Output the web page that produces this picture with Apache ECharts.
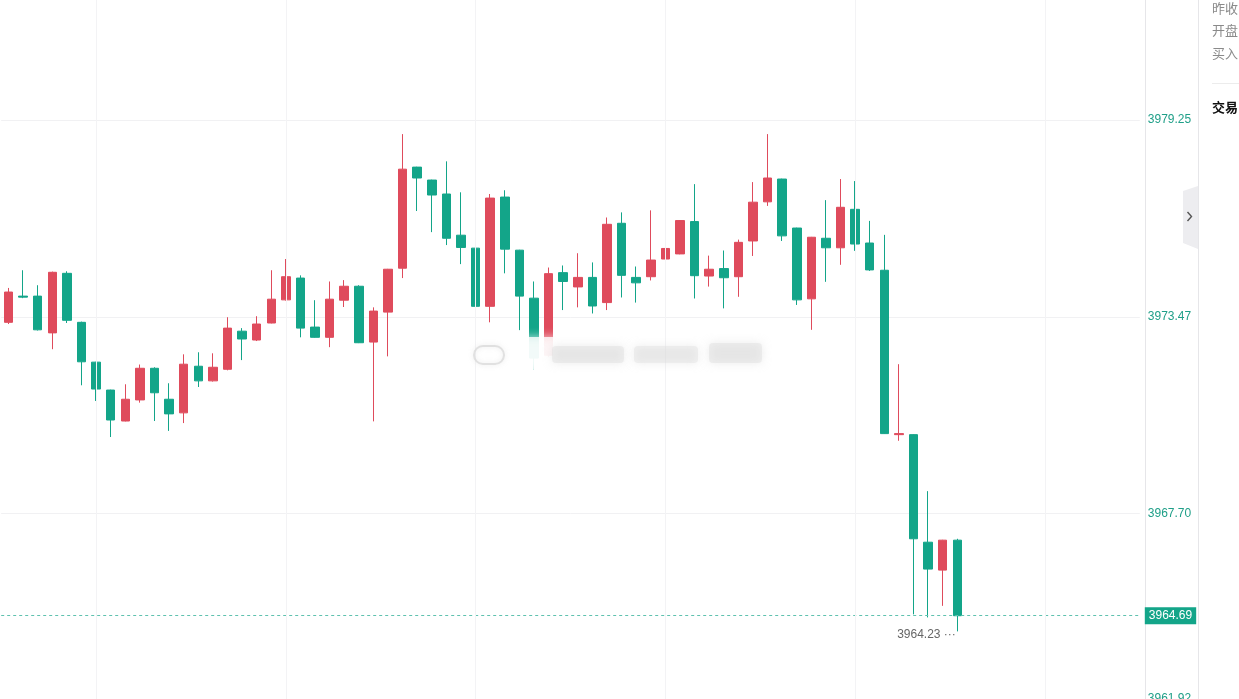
<!DOCTYPE html>
<html>
<head>
<meta charset="utf-8">
<title>K线图</title>
<script src="https://cdn.jsdelivr.net/npm/echarts@6/dist/echarts.min.js"></script>
<style>
  html, body { margin: 0; padding: 0; background: #fff; overflow: hidden; }
  #main { width: 1239px; height: 710px; }
</style>
</head>
<body>
<div id="main"></div>
<script>
// 价格数据（开、收、低、高）
var openData = [
  3973.31, 3974.08, 3974.08, 3973.00, 3974.75, 3973.31, 3972.14, 3971.32, 3970.41, 3971.03,
  3971.96, 3971.05, 3970.65, 3972.02, 3971.59, 3971.93, 3973.05, 3972.79, 3973.29, 3973.97,
  3974.61, 3973.17, 3972.87, 3973.96, 3974.37, 3972.73, 3973.61, 3974.90, 3977.87, 3977.49,
  3977.08, 3975.87, 3975.49, 3973.78, 3976.99, 3975.43, 3974.02, 3972.34, 3974.77, 3974.35,
  3974.63, 3973.89, 3976.22, 3974.63, 3974.65, 3975.17, 3975.32, 3976.27, 3974.67, 3974.89,
  3974.65, 3975.70, 3976.85, 3977.52, 3976.08, 3974.00, 3975.78, 3975.50, 3976.63, 3975.64,
  3974.84, 3970.01, 3970.01, 3966.85, 3966.03, 3966.91
];
var closeData = [
  3974.20, 3974.05, 3973.09, 3974.78, 3973.37, 3972.15, 3971.35, 3970.44, 3971.05, 3971.96,
  3971.24, 3970.62, 3972.08, 3971.59, 3971.99, 3973.14, 3972.82, 3973.26, 3973.99, 3974.65,
  3973.14, 3972.87, 3973.99, 3974.37, 3972.71, 3973.64, 3974.87, 3977.81, 3977.55, 3977.05,
  3975.78, 3975.51, 3973.78, 3976.96, 3975.46, 3974.08, 3972.26, 3974.74, 3974.51, 3974.63,
  3973.79, 3976.19, 3974.69, 3974.47, 3975.14, 3975.48, 3976.30, 3974.68, 3974.87, 3974.62,
  3975.66, 3976.84, 3977.55, 3975.85, 3973.97, 3975.81, 3975.50, 3976.69, 3975.61, 3974.85,
  3970.04, 3970.04, 3966.95, 3966.06, 3966.91, 3964.69
];
var lowData = [
  3973.26, 3974.02, 3973.07, 3972.52, 3973.29, 3971.46, 3971.00, 3969.94, 3970.40, 3970.95,
  3970.41, 3970.12, 3970.35, 3971.41, 3971.57, 3971.90, 3972.20, 3972.76, 3973.28, 3973.95,
  3972.87, 3972.86, 3972.58, 3973.76, 3972.70, 3970.40, 3972.31, 3974.61, 3976.58, 3975.96,
  3975.58, 3975.02, 3973.77, 3973.31, 3974.75, 3973.08, 3971.93, 3972.30, 3973.67, 3973.75,
  3973.57, 3973.67, 3974.04, 3973.89, 3974.54, 3974.70, 3975.31, 3974.01, 3974.36, 3973.72,
  3974.06, 3975.26, 3976.73, 3975.70, 3973.82, 3973.09, 3974.50, 3975.00, 3975.41, 3974.82,
  3970.03, 3969.83, 3964.73, 3964.64, 3964.98, 3964.23
];
var highData = [
  3974.32, 3974.84, 3974.40, 3974.80, 3974.81, 3973.33, 3972.15, 3971.33, 3971.49, 3972.07,
  3971.99, 3971.52, 3972.37, 3972.43, 3972.40, 3973.46, 3973.14, 3973.49, 3974.84, 3975.17,
  3974.69, 3973.96, 3974.51, 3974.55, 3974.40, 3973.75, 3974.88, 3978.84, 3977.88, 3977.50,
  3978.04, 3977.13, 3975.50, 3977.08, 3977.19, 3975.44, 3974.51, 3974.92, 3974.98, 3975.34,
  3975.07, 3976.39, 3976.54, 3974.95, 3976.60, 3976.15, 3976.31, 3977.37, 3975.27, 3975.42,
  3975.74, 3977.43, 3978.84, 3977.53, 3976.09, 3975.82, 3976.90, 3977.52, 3977.46, 3976.29,
  3975.88, 3972.08, 3970.02, 3968.35, 3966.92, 3966.95
];

// 纵轴刻度
var yTicks = [3961.92, 3967.70, 3973.47, 3979.25];
var yMax = 3982.78;

// 右侧面板文字
var sideLabels = ['昨收', '开盘', '买入'];
var sideTitle = '交易';

var slotCount = 78;   // 含右侧空白位置
var upColor = '#df4b5c';
var downColor = '#13a589';

var slots = [];
for (var i = 0; i < slotCount; i++) slots.push(String(i));

var candles = openData.map(function (o, i) {
  return [o, closeData[i], lowData[i], highData[i]];
});
var lastPrice = closeData[closeData.length - 1];

var markLines = [{
  yAxis: lastPrice,
  lineStyle: { color: '#5fc2af', type: [3, 3], width: 1 },
  label: {
    show: true, position: 'end', distance: 5,
    formatter: lastPrice.toFixed(2),
    backgroundColor: downColor, color: '#fff',
    fontSize: 12, fontFamily: 'Liberation Sans, Arial',
    padding: [3, 4, 2, 4]
  }
}];
for (var k = 6; k < slotCount; k += 13) {
  markLines.push({
    xAxis: k,
    lineStyle: { color: '#f3f3f5', type: 'solid', width: 1 },
    label: { show: false }
  });
}

var graphics = [
  { type: 'rect', shape: { x: 1199, y: 0, width: 40, height: 710 }, style: { fill: '#fff' }, z: 10 },
  { type: 'line', shape: { x1: 1198.5, y1: 0, x2: 1198.5, y2: 710 }, style: { stroke: '#e6e6e9', lineWidth: 1 }, z: 11 },
  { type: 'polygon', shape: { points: [[1183, 191], [1198, 186], [1198, 249], [1183, 243]] }, style: { fill: '#ededf0' }, z: 11 },
  { type: 'polyline', shape: { points: [[1187.5, 212], [1191.5, 216.5], [1187.5, 221]] }, style: { stroke: '#555', lineWidth: 1.4, fill: null }, z: 12 },
  { type: 'line', shape: { x1: 1212, y1: 83.5, x2: 1239, y2: 83.5 }, style: { stroke: '#ececec', lineWidth: 1 }, z: 11 },
  { type: 'text', x: 1212, y: 107, style: { text: sideTitle, fill: '#111', font: 'bold 13px "Noto Sans CJK SC"', verticalAlign: 'middle' }, z: 12 },
  // 模糊水印
  { type: 'rect', shape: { x: 470, y: 337, width: 298, height: 32, r: 6 }, style: { fill: 'rgba(255,255,255,0.8)', shadowBlur: 10, shadowColor: 'rgba(255,255,255,0.9)' }, z: 5 },
  { type: 'rect', shape: { x: 474, y: 346, width: 30, height: 18, r: 9 }, style: { fill: 'none', stroke: 'rgba(215,215,215,0.7)', lineWidth: 2, shadowBlur: 5, shadowColor: '#ddd' }, z: 6 },
  { type: 'rect', shape: { x: 552, y: 346, width: 72, height: 17, r: 4 }, style: { fill: 'rgba(222,222,222,0.45)', shadowBlur: 10, shadowColor: 'rgba(205,205,205,0.9)' }, z: 6 },
  { type: 'rect', shape: { x: 634, y: 346, width: 64, height: 17, r: 4 }, style: { fill: 'rgba(222,222,222,0.4)', shadowBlur: 10, shadowColor: 'rgba(205,205,205,0.9)' }, z: 6 },
  { type: 'rect', shape: { x: 709, y: 343, width: 53, height: 20, r: 4 }, style: { fill: 'rgba(222,222,222,0.45)', shadowBlur: 10, shadowColor: 'rgba(205,205,205,0.9)' }, z: 6 }
];
sideLabels.forEach(function (t, i) {
  graphics.push({
    type: 'text', x: 1212, y: 8 + i * 22.5,
    style: { text: t, fill: '#8a8a8a', font: '13px "Noto Sans CJK SC"', verticalAlign: 'middle' }, z: 12
  });
});

var myChart = echarts.init(document.getElementById('main'));

var option = {
  animation: false,
  grid: { left: 1.2, right: 99.2, top: 0, bottom: 0 },
  xAxis: {
    type: 'category',
    data: slots,
    boundaryGap: true,
    axisLine: { show: false },
    axisTick: { show: false },
    axisLabel: { show: false },
    splitLine: { show: false }
  },
  yAxis: {
    type: 'value',
    position: 'right',
    offset: 5,
    min: yTicks[0],
    max: yMax,
    interval: (yTicks[yTicks.length - 1] - yTicks[0]) / (yTicks.length - 1),
    axisLine: { show: true, lineStyle: { color: '#e6e6e9' } },
    axisTick: { show: false },
    splitLine: { show: true, showMaxLine: false, lineStyle: { color: '#f1f1f3' } },
    axisLabel: {
      margin: 3,
      showMaxLabel: false,
      showMinLabel: true,
      color: '#1f9f88',
      fontSize: 12,
      fontFamily: 'Liberation Sans, Arial',
      formatter: function (v, idx) {
        if (idx === 0) return '{m|' + v.toFixed(2) + '}';
        return v.toFixed(2);
      },
      rich: {
        m: { color: '#1f9f88', fontSize: 12, fontFamily: 'Liberation Sans, Arial', padding: [0, 0, 22, 0] }
      }
    }
  },
  series: [{
    type: 'candlestick',
    data: candles,
    barWidth: 9,
    itemStyle: {
      color: upColor,
      color0: downColor,
      borderColor: upColor,
      borderColor0: downColor,
      borderWidth: 1
    },
    markLine: {
      silent: true,
      symbol: ['none', 'none'],
      animation: false,
      data: markLines
    },
    markPoint: {
      silent: true,
      symbol: 'circle',
      symbolSize: 1,
      itemStyle: { color: 'rgba(0,0,0,0)' },
      data: [{ type: 'min', valueDim: 'lowest', name: 'low' }],
      label: {
        show: true,
        position: 'left',
        distance: 1,
        offset: [0, 3],
        color: '#666',
        fontSize: 12,
        fontFamily: 'Liberation Sans, Arial',
        formatter: function (p) { return Number(p.value).toFixed(2) + ' \u00b7\u00b7\u00b7'; }
      }
    }
  }],
  graphic: graphics
};

myChart.setOption(option);
</script>
</body>
</html>
